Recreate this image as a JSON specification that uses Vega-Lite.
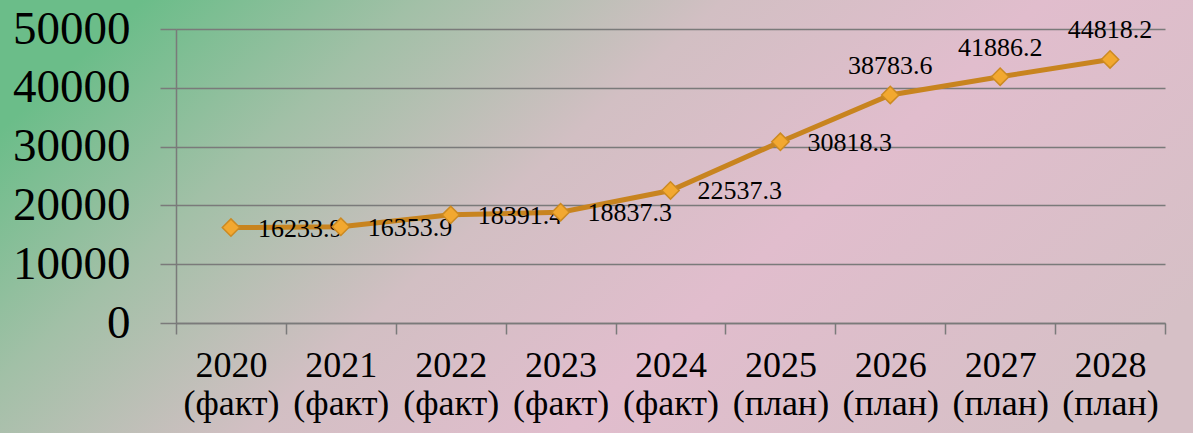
{
  "$schema": "https://vega.github.io/schema/vega-lite/v6.json",
  "width": 1193,
  "height": 433,
  "padding": 0,
  "autosize": {"type": "none"},
  "background": "#d6bfc6",
  "config": {
    "view": {
      "stroke": null,
      "fill": {
        "gradient": "linear",
        "x1": 0, "y1": 0.3, "x2": 1, "y2": 0.7,
        "stops": [
          {"offset": 0, "color": "#6bbd89"},
          {"offset": 0.2, "color": "#a2c0a7"},
          {"offset": 0.42, "color": "#d2bfc3"},
          {"offset": 0.65, "color": "#e1bdcd"},
          {"offset": 1, "color": "#d6c0c6"}
        ]
      }
    },
    "font": "'Liberation Serif', 'DejaVu Serif', serif"
  },
  "data": {
    "values": [
      {"year": "2020 (факт)", "value": 16233.9},
      {"year": "2021 (факт)", "value": 16353.9},
      {"year": "2022 (факт)", "value": 18391.4},
      {"year": "2023 (факт)", "value": 18837.3},
      {"year": "2024 (факт)", "value": 22537.3},
      {"year": "2025 (план)", "value": 30818.3},
      {"year": "2026 (план)", "value": 38783.6},
      {"year": "2027 (план)", "value": 41886.2},
      {"year": "2028 (план)", "value": 44818.2}
    ]
  },
  "encoding": {
    "x": {
      "field": "year",
      "type": "nominal",
      "sort": null,
      "scale": {"type": "band", "range": [176, 1165], "paddingInner": 0, "paddingOuter": 0},
      "axis": {
        "orient": "bottom",
        "offset": -110,
        "title": null,
        "labelAngle": 0,
        "labelExpr": "split(datum.label, ' ')",
        "labelFont": "'Liberation Serif', 'DejaVu Serif', serif",
        "labelFontSize": 36,
        "labelLineHeight": 38,
        "labelColor": "#000000",
        "labelPadding": 14,
        "tickBand": "extent",
        "tickSize": 11,
        "tickColor": "#7a7a7a",
        "tickWidth": 1.5,
        "domain": true,
        "domainColor": "#7a7a7a",
        "domainWidth": 1.5,
        "grid": false
      }
    },
    "y": {
      "field": "value",
      "type": "quantitative",
      "scale": {"domain": [0, 50000], "range": [323, 29], "nice": false, "zero": true},
      "axis": {
        "orient": "left",
        "offset": -176,
        "title": null,
        "values": [0, 10000, 20000, 30000, 40000, 50000],
        "format": "d",
        "labelFont": "'Liberation Serif', 'DejaVu Serif', serif",
        "labelFontSize": 47,
        "labelColor": "#000000",
        "labelPadding": 30,
        "tickSize": 16,
        "tickColor": "#7a7a7a",
        "tickWidth": 1.5,
        "domain": true,
        "domainColor": "#7a7a7a",
        "domainWidth": 1.5,
        "grid": true,
        "gridColor": "#7a7a7a",
        "gridWidth": 1.5
      }
    }
  },
  "layer": [
    {
      "mark": {"type": "line", "color": "#c8841f", "strokeWidth": 5}
    },
    {
      "transform": [{"filter": "toNumber(slice(datum.year, 0, 4)) < 2026"}],
      "mark": {"type": "text", "align": "left", "baseline": "middle", "dx": 27, "dy": 1, "fontSize": 26, "font": "'Liberation Serif', 'DejaVu Serif', serif", "color": "#000000"},
      "encoding": {"text": {"field": "value", "type": "quantitative", "format": ".1f"}}
    },
    {
      "transform": [{"filter": "toNumber(slice(datum.year, 0, 4)) >= 2026"}],
      "mark": {"type": "text", "align": "center", "baseline": "middle", "dy": -29, "fontSize": 26, "font": "'Liberation Serif', 'DejaVu Serif', serif", "color": "#000000"},
      "encoding": {"text": {"field": "value", "type": "quantitative", "format": ".1f"}}
    },
    {
      "mark": {"type": "point", "shape": "diamond", "size": 300, "filled": true, "fill": "#f2a830", "stroke": "#cc8a22", "strokeWidth": 1.5, "opacity": 1}
    }
  ]
}
